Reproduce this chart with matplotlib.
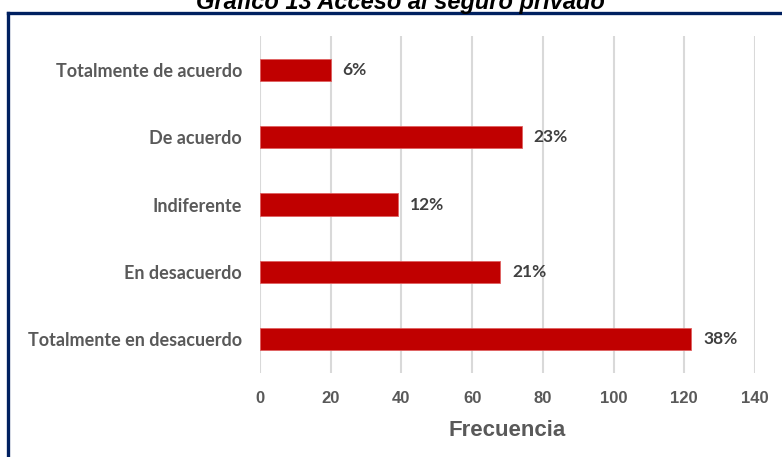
import matplotlib
matplotlib.use("Agg")
import matplotlib.pyplot as plt

categorias = ["Totalmente en desacuerdo", "En desacuerdo", "Indiferente",
              "De acuerdo", "Totalmente de acuerdo"]
frecuencias = [122, 68, 39, 74, 20]
porcentajes = ["38%", "21%", "12%", "23%", "6%"]
x_ticks = [0, 20, 40, 60, 80, 100, 120, 140]


def main():
    W, H = 782, 457
    fig = plt.figure(figsize=(W / 100, H / 100), dpi=100)
    fig.patch.set_facecolor("white")

    ax = fig.add_axes([260 / W, (H - 373) / H, (755 - 260) / W, (373 - 36) / H])
    y = list(range(len(categorias)))
    ax.barh(y, frecuencias, height=0.33, color="#c00000",
            edgecolor="#e06060", linewidth=0.6, zorder=3)

    for yi, val, pct in zip(y, frecuencias, porcentajes):
        ax.text(val + 3.4, yi, pct, va="center", ha="left",
                fontsize=12.5, fontweight="bold", color="#404040",
                family="Lato")

    ax.set_xlim(0, 140)
    ax.set_ylim(-0.5, len(categorias) - 0.5)
    ax.set_xticks(x_ticks)
    ax.set_xticklabels([str(t) for t in x_ticks], fontsize=12,
                       fontweight="bold", color="#595959",
                       family="Liberation Sans")
    ax.set_yticks(y)
    ax.set_yticklabels(categorias, fontsize=13, fontweight="bold",
                       color="#595959", family="Lato")
    ax.tick_params(axis="both", length=0)
    ax.tick_params(axis="x", pad=13)
    ax.tick_params(axis="y", pad=13)
    ax.grid(axis="x", color="#d9d9d9", linewidth=1.5, zorder=0)
    for s in ax.spines.values():
        s.set_visible(False)

    ax.set_xlabel("Frecuencia", fontsize=16, fontweight="bold",
                  color="#595959", family="Liberation Sans", labelpad=10)

    # marco del gráfico
    fig.add_artist(plt.Line2D([8 / W, 1.0], [1 - 13 / H, 1 - 13 / H],
                              color="#002060", linewidth=2.4,
                              transform=fig.transFigure))
    fig.add_artist(plt.Line2D([8 / W, 8 / W], [0, 1 - 13 / H],
                              color="#002060", linewidth=2.4,
                              transform=fig.transFigure))

    fig.text(400 / W, 1 - 9 / H, "Gráfico 13 Acceso al seguro privado",
             ha="center", va="baseline", fontsize=17, fontweight="bold",
             style="italic", color="black", family="Liberation Sans")

    fig.savefig("out.png", dpi=100)


if __name__ == "__main__":
    main()
